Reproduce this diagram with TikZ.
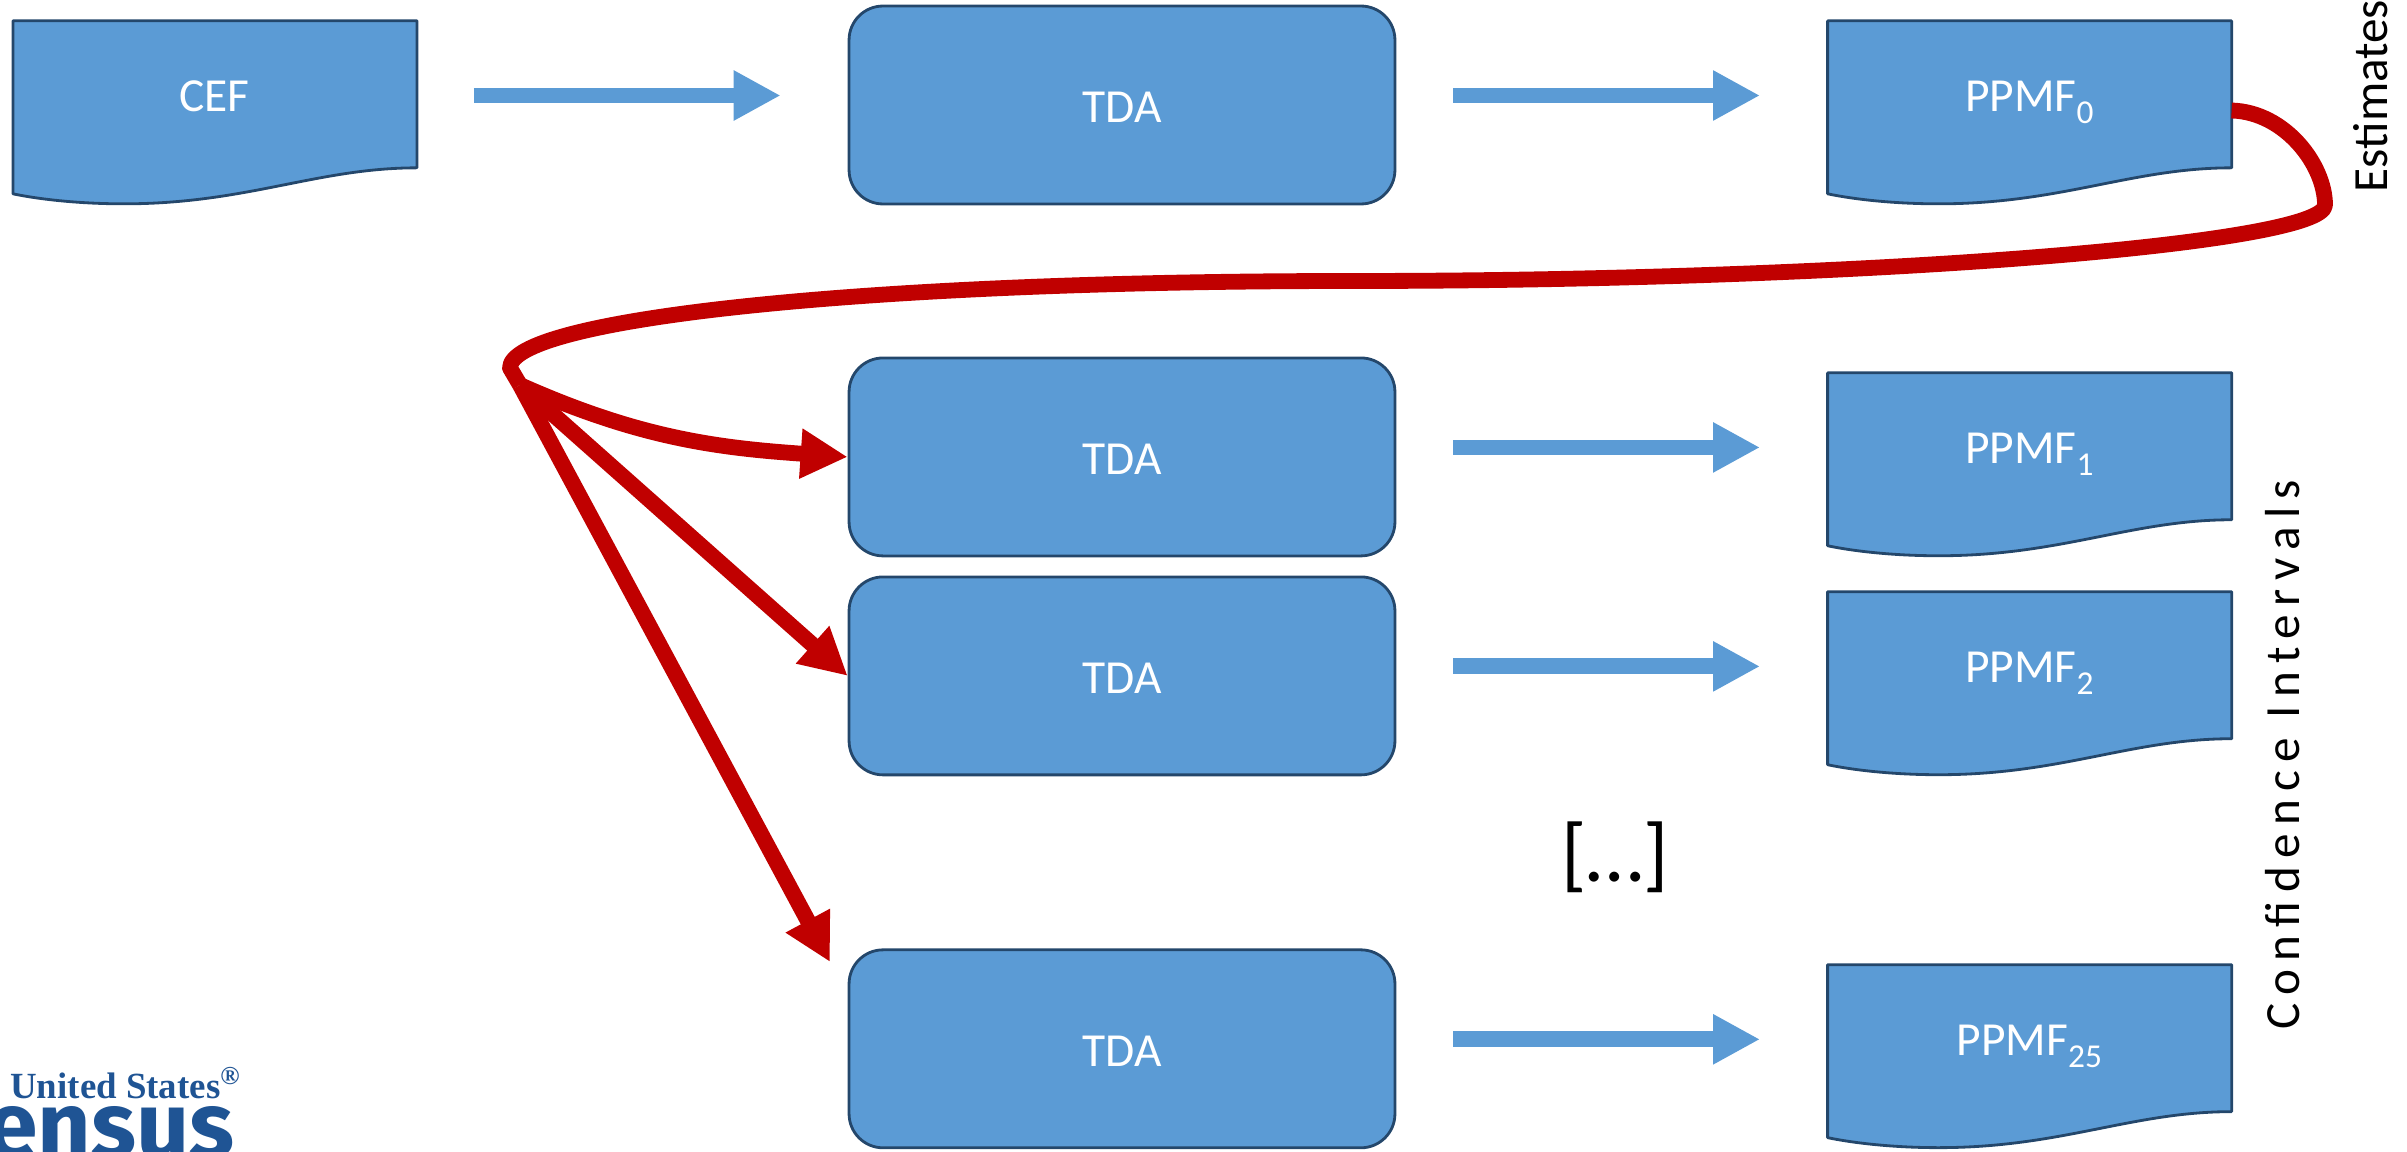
\documentclass[tikz,border=0pt]{standalone}
\usepackage{fontspec}
\setmainfont{Carlito}
\newfontfamily\logoserif{Liberation Serif}
\newfontfamily\logosans{Fira Sans}
\usetikzlibrary{arrows.meta,backgrounds,positioning}

\definecolor{boxblue}{HTML}{5B9BD5}
\definecolor{boxline}{HTML}{24476B}
\definecolor{flowred}{HTML}{C00000}
\definecolor{logoblue}{HTML}{1F5494}

\tikzset{
    tdabox/.style={rectangle,rounded corners=0.68cm,draw=boxline,fill=boxblue,line width=1.6pt,
        minimum width=10.92cm,minimum height=3.96cm,text=white,text height=20pt,text depth=0pt,
        font=\fontsize{27}{32}\selectfont},
    docbox/.style={rectangle,minimum width=8.08cm,minimum height=2.94cm,text=white,text height=18pt,text depth=0pt,
        font=\fontsize{27}{32}\selectfont},
    docline/.style={draw=boxline,fill=boxblue,line width=1.6pt,line join=round},
    flowarrow/.style={boxblue,line width=9pt,-{Triangle[length=0.94cm,width=0.94cm]}},
    redline/.style={flowred,line width=9pt,line join=round},
    redarrow/.style={redline,-{Triangle[length=0.94cm,width=0.94cm]}},
    sidelabel/.style={rotate=90,text=black,font=\fontsize{28}{33}\selectfont},
    logotext/.style={text=logoblue,inner sep=0pt}
}

\newcommand{\docbody}[1]{%
    \begin{scope}[on background layer,shift={([yshift=0.03cm]#1.south east)}]
        \filldraw[docline] (-404,-147) -- (0,-147) -- (0,0)
            .. controls (-100,0) and (-170,36) .. (-293,36)
            .. controls (-335,36) and (-375,32) .. (-404,26) -- cycle;
    \end{scope}}
\newcommand{\docsub}[1]{\raisebox{-0.26em}{\fontsize{19}{22}\selectfont #1}}

\begin{document}
\begin{tikzpicture}[x=0.02cm,y=-0.02cm,on grid,node distance=18.15cm]
    \clip (0,0) rectangle (2407,1152);

    \node[tdabox] (tda_0) at (1122,105) {TDA};
    \node[tdabox] (tda_1) [below=7.04cm of tda_0] {TDA};
    \node[tdabox] (tda_2) [below=4.38cm of tda_1] {TDA};
    \node[tdabox] (tda_3) [below=7.46cm of tda_2] {TDA};

    \node[docbox] (cef) [left=of tda_0,yshift=0.19cm] {CEF};
    \node[docbox] (ppmf_0) [right=of tda_0,yshift=0.19cm] {PPMF\docsub{0}};
    \node[docbox] (ppmf_1) [right=of tda_1,yshift=0.19cm] {PPMF\docsub{1}};
    \node[docbox] (ppmf_2) [right=of tda_2,yshift=0.19cm] {PPMF\docsub{2}};
    \node[docbox] (ppmf_3) [right=of tda_3,yshift=0.19cm] {PPMF\docsub{25}};
    \docbody{cef}
    \docbody{ppmf_0}
    \docbody{ppmf_1}
    \docbody{ppmf_2}
    \docbody{ppmf_3}

    \node[text=black,font=\fontsize{47}{54}\selectfont] (dots) at (1615,857) {[…]};
    \node[sidelabel] (estimates) at (2371,96) {Estimates};
    \node[sidelabel] (intervals) at (2283,755) {\addfontfeature{LetterSpace=17}Confidence Intervals};

    \node[logotext,anchor=base west,font=\logoserif\bfseries\fontsize{21}{25}\selectfont] (logo_us) at (10,1098) {United States\textsuperscript{®}};
    \node[logotext,anchor=base east,font=\logosans\bfseries\fontsize{53}{62}\selectfont] (logo_census) at (235,1157) {Census};

    \path[flowarrow,shorten <=1.14cm,shorten >=1.34cm]
    (cef.east) edge (cef.east -| tda_0.west)
    (tda_0.east |- ppmf_0) edge (ppmf_0.west)
    (tda_1.east |- ppmf_1) edge (ppmf_1.west)
    (tda_2.east |- ppmf_2) edge (ppmf_2.west)
    (tda_3.east |- ppmf_3) edge (ppmf_3.west)
    ;

    \coordinate (fan) at (520,385);
    \coordinate (tip_3) at (830,962);
    \draw[redline] ([yshift=-0.3cm]ppmf_0.east)
        .. controls (2285,112) and (2325,165) .. (2325,205)
        .. controls (2325,245) and (1850,281) .. (1351,281)
        .. controls (850,281) and (510,320) .. (510,368)
        -- (fan);
    \path[redarrow]
    (fan) edge [out=-24,in=176] (tda_1.west)
          edge (tda_2.west)
          edge (tip_3)
    ;
\end{tikzpicture}
\end{document}
